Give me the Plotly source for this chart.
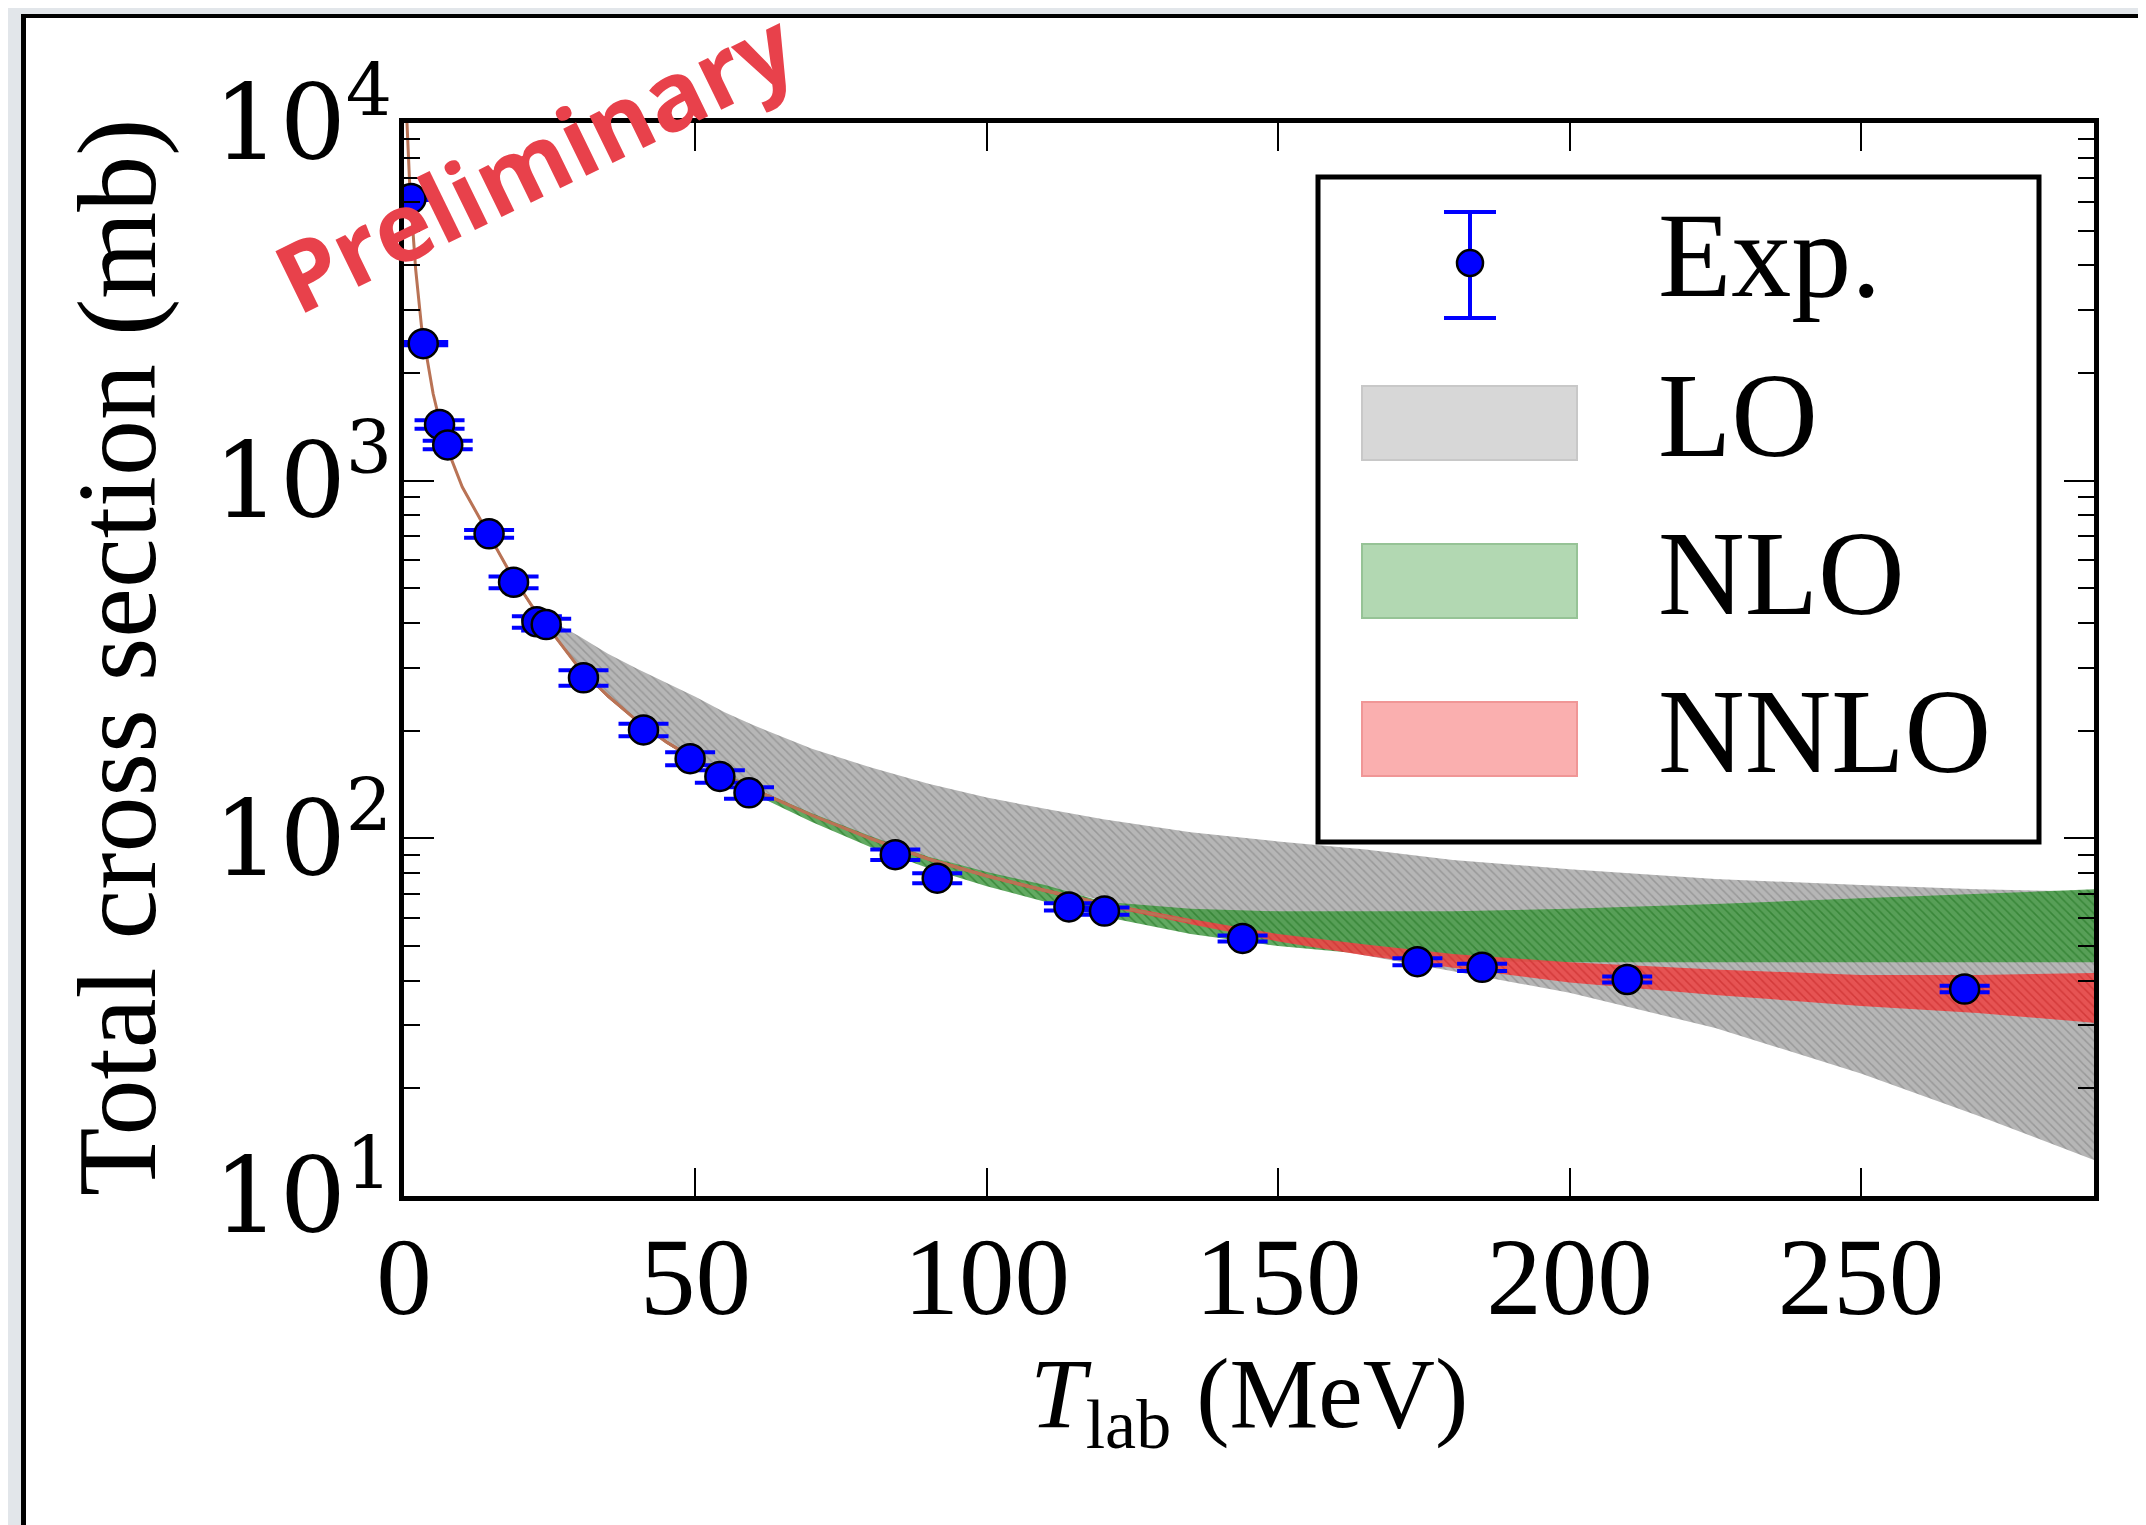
import plotly.graph_objects as go

# ---------------- data ----------------
# experimental points
exp_T = [1.2, 3.3, 6.1, 7.5, 14.6, 18.8, 22.8, 24.4, 30.8, 41.1, 49.1, 54.2, 59.2,
         84.3, 91.5, 114.1, 120.2, 143.9, 173.9, 185.0, 209.9, 267.8]
exp_sigma = [6150, 2415, 1436, 1259, 710, 520, 403, 396, 281, 201, 167, 149, 134,
             90, 77.4, 64.3, 62.6, 52.5, 45.2, 43.6, 40.3, 37.9]
exp_err = [60, 25, 40, 35, 18, 20, 15, 15, 14, 8, 7, 6, 5,
           3, 2.5, 1.5, 1.5, 1.0, 1.0, 1.0, 0.8, 0.8]

# energy grid of the theory bands
band_T = [0.3, 1, 2, 3, 5, 7, 10, 14, 18, 22, 26, 30, 35, 40, 45, 50, 55, 60, 70, 80,
          90, 100, 110, 120, 135, 150, 165, 180, 200, 225, 250, 270, 290]

central = [12000, 6600, 3900, 2700, 1750, 1280, 960, 730, 560, 445, 365, 300, 250, 213,
           186, 166, 150, 137, 116, 100, 87.5, 78.5, 71.5, 65.5, 58.5]

lo_low = [11880, 6530, 3860, 2670, 1730, 1265, 950, 722, 554, 440, 362, 298, 248, 212,
          186, 166, 150, 137, 117, 101, 89, 80, 73, 67, 59.5, 52.5, 47, 42.5, 37, 29.5,
          22, 16.8, 12.6]
lo_high = [12120, 6670, 3940, 2730, 1770, 1295, 970, 738, 566, 450, 400, 368, 328, 298,
           272, 249, 225, 207, 178, 158, 142, 130, 121, 113, 104, 98, 93, 87, 82, 77,
           74, 72, 71]

nlo_low = [11880, 6530, 3860, 2670, 1730, 1265, 950, 722, 554, 440, 361, 297, 247, 211,
           184, 164, 147, 133, 111, 94.5, 82.5, 73.5, 66.5, 60.5, 54, 50, 47.5, 45.5,
           45, 45, 45, 45, 45]
nlo_high = [12120, 6670, 3940, 2730, 1770, 1295, 970, 738, 566, 450, 369, 303, 253, 215,
            188, 168, 152, 138.5, 117.5, 101.5, 89, 80.5, 74, 66.5, 63.5, 62.5, 62.5,
            62.5, 63.5, 65.5, 68, 70, 72]

nnlo_low = [11880, 6530, 3860, 2670, 1730, 1265, 950, 722, 554, 440, 361, 297, 247, 211,
            184, 164, 148.5, 135.5, 115, 99, 86.5, 77.7, 70.7, 64.7, 57.5, 51.5, 47,
            43.5, 39.5, 36.5, 34, 32.5, 30.5]
nnlo_high = [12120, 6670, 3940, 2730, 1770, 1295, 970, 738, 566, 450, 369, 303, 253, 215,
             188, 168, 151.5, 138.5, 117, 101, 88.5, 79.3, 72.3, 66.3, 59.5, 54, 50.5,
             47.5, 45, 43, 41.5, 41.5, 42]

x_ticks = [0, 50, 100, 150, 200, 250]
y_ticks = [10, 100, 1000, 10000]
y_ticktext = ["10<sup>1</sup>", "10<sup>2</sup>", "10<sup>3</sup>", "10<sup>4</sup>"]

legend_labels = ["Exp.", "LO", "NLO", "NNLO"]

# ---------------- geometry helpers (pixel -> paper) ----------------
W, H = 2146, 1525
PW, PH = 1690, 1073
OFFX, OFFY = -4, -5
ML, MT = 400 + OFFX, 120 + OFFY
MR, MB = W - ML - PW, H - MT - PH


def xp(px):          # reference pixel (relative layout) -> paper
    return (px - 400) / PW


def yp(py):
    return (1193 - py) / PH


def xa(px):          # absolute page pixel -> paper
    return (px - ML) / PW


def ya(py):
    return (H - MB - py) / PH


fig = go.Figure()


def band(xs, low, high, fill, fg):
    fig.add_trace(go.Scatter(
        x=xs + xs[::-1], y=high + low[::-1], mode="lines", fill="toself",
        fillcolor=fill, line=dict(width=0), hoverinfo="skip",
        fillpattern=dict(shape="\\", size=6, solidity=0.25, fgcolor=fg,
                         bgcolor=fill, fillmode="replace")))


band(band_T, lo_low, lo_high, "rgba(178,178,178,0.95)", "rgba(150,150,150,0.95)")
band(band_T, nlo_low, nlo_high, "rgba(70,155,70,0.85)", "rgba(50,130,50,0.85)")
band(band_T, nnlo_low, nnlo_high, "rgba(235,72,72,0.9)", "rgba(210,55,55,0.9)")

fig.add_trace(go.Scatter(x=band_T[:len(central)], y=central, mode="lines",
                         line=dict(color="rgb(185,115,85)", width=3), hoverinfo="skip"))

fig.add_trace(go.Scatter(
    x=exp_T, y=exp_sigma, mode="markers",
    marker=dict(size=29, color="#0000ff", line=dict(color="black", width=2.5)),
    error_y=dict(type="data", array=exp_err, color="#0000ff", thickness=4, width=25)))

axis_common = dict(showline=True, linewidth=5, linecolor="black", mirror="allticks",
                   ticks="inside", tickcolor="black", tickwidth=2, showgrid=False,
                   zeroline=False)

fig.update_xaxes(range=[0, 290], tickvals=x_ticks, ticklen=28,
                 tickfont=dict(family="Liberation Serif", size=111, color="black"),
                 ticklabelstandoff=-20, **axis_common)
fig.update_yaxes(type="log", range=[1, 4], tickvals=y_ticks, ticktext=y_ticktext,
                 ticklen=30,
                 minor=dict(ticks="inside", ticklen=16, tickwidth=2, tickcolor="black",
                            dtick="D1", showgrid=False),
                 tickfont=dict(family="DejaVu Serif", size=104, color="black"),
                 ticklabelstandoff=-14, **axis_common)

shapes = []
# screenshot frame (gray strips with black edge lines)
shapes.append(dict(type="rect", xref="paper", yref="paper", x0=xa(0), x1=xa(13),
                   y0=ya(H), y1=ya(0), fillcolor="#e2e6ea", line=dict(width=0), layer="below"))
shapes.append(dict(type="rect", xref="paper", yref="paper", x0=xa(0), x1=xa(W),
                   y0=ya(6), y1=ya(0), fillcolor="#e2e6ea", line=dict(width=0), layer="below"))
shapes.append(dict(type="rect", xref="paper", yref="paper", x0=xa(13), x1=xa(18),
                   y0=ya(H), y1=ya(6), fillcolor="black", line=dict(width=0), layer="below"))
shapes.append(dict(type="rect", xref="paper", yref="paper", x0=xa(13), x1=xa(W),
                   y0=ya(10), y1=ya(6), fillcolor="black", line=dict(width=0), layer="below"))

# legend box
shapes.append(dict(type="rect", xref="paper", yref="paper", x0=xp(1314), x1=xp(2035),
                   y0=yp(839), y1=yp(174), fillcolor="white",
                   line=dict(color="black", width=5), layer="above"))
entry_y = [260, 420, 578, 736]
sw_x0, sw_x1 = 1358, 1573
swatch_cols = [None, ("rgb(215,215,215)", "rgb(200,200,200)"),
               ("rgb(178,216,178)", "rgb(150,195,150)"),
               ("rgb(250,175,175)", "rgb(240,150,150)")]
for i in (1, 2, 3):
    fc, lc = swatch_cols[i]
    shapes.append(dict(type="rect", xref="paper", yref="paper", x0=xp(sw_x0), x1=xp(sw_x1),
                       y0=yp(entry_y[i] + 37), y1=yp(entry_y[i] - 37), fillcolor=fc,
                       line=dict(color=lc, width=2), layer="above"))
# Exp. symbol
cx = 1466
shapes.append(dict(type="line", xref="paper", yref="paper", x0=xp(cx), x1=xp(cx),
                   y0=yp(315), y1=yp(209), line=dict(color="#0000ff", width=4), layer="above"))
for cy in (209, 315):
    shapes.append(dict(type="line", xref="paper", yref="paper", x0=xp(cx - 26), x1=xp(cx + 26),
                       y0=yp(cy), y1=yp(cy), line=dict(color="#0000ff", width=4), layer="above"))
shapes.append(dict(type="circle", xref="paper", yref="paper", x0=xp(cx - 13), x1=xp(cx + 13),
                   y0=yp(273), y1=yp(247), fillcolor="#0000ff",
                   line=dict(color="black", width=2.5), layer="above"))

annotations = []
for lab, ey in zip(legend_labels, entry_y):
    annotations.append(dict(xref="paper", yref="paper", x=xp(1652), y=yp(ey - 8), text=lab,
                            showarrow=False, xanchor="left", yanchor="middle",
                            font=dict(family="Liberation Serif", size=120, color="black")))
# axis titles
annotations.append(dict(xref="paper", yref="paper", x=0.5, y=yp(1397),
                        text="<i>T</i><sub>lab</sub> (MeV)", showarrow=False,
                        xanchor="center", yanchor="middle",
                        font=dict(family="Liberation Serif", size=100, color="black")))
annotations.append(dict(xref="paper", yref="paper", x=xp(113), y=yp(654),
                        text="Total cross section (mb)", showarrow=False, textangle=-90,
                        xanchor="center", yanchor="middle",
                        font=dict(family="Liberation Serif", size=112, color="black")))
# watermark
annotations.append(dict(xref="paper", yref="paper", x=xp(530), y=yp(157),
                        text="Preliminary", showarrow=False, textangle=-26,
                        xanchor="center", yanchor="middle",
                        font=dict(family="Open Sans", size=96, color="#E8414B", weight="bold")))

fig.update_layout(width=W, height=H, margin=dict(l=ML, r=MR, t=MT, b=MB),
                  paper_bgcolor="white", plot_bgcolor="white", showlegend=False,
                  shapes=shapes, annotations=annotations,
                  font=dict(family="Liberation Serif", color="black"))

fig.write_html("out.html")
